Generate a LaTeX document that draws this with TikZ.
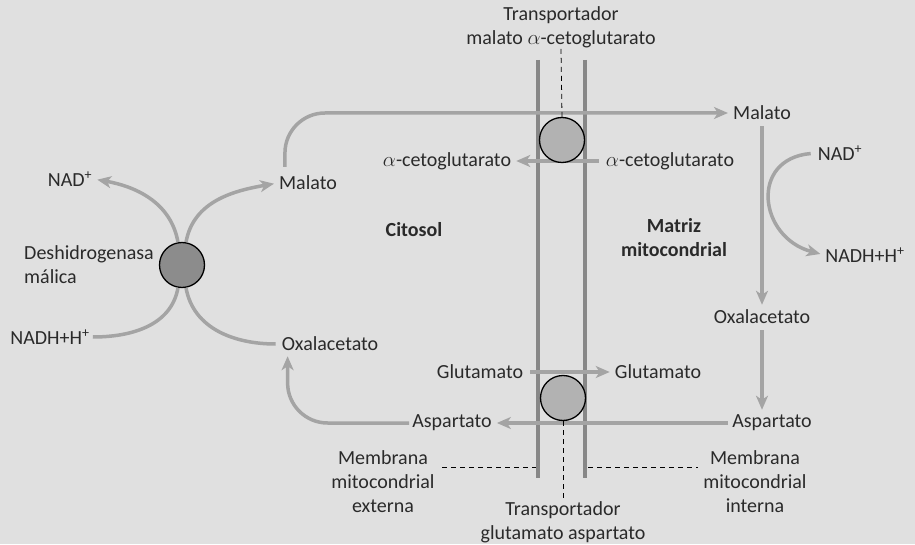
\documentclass[tikz,border=0pt]{standalone}
\usepackage{fontspec}
\setmainfont{Carlito}
\usetikzlibrary{arrows.meta}
\definecolor{bg}{HTML}{E0E0E0}
\definecolor{arr}{HTML}{A4A4A4}
\definecolor{mem}{HTML}{878787}
\definecolor{txt}{HTML}{2A2A2A}
\definecolor{dhfill}{HTML}{8C8C8C}
\definecolor{trfill}{HTML}{B2B2B2}
\begin{document}
\begin{tikzpicture}[x=1pt,y=1pt,
  lbl/.style={font=\fontsize{20}{24}\selectfont, text=txt, inner sep=1pt, align=center},
  flow/.style={draw=arr, line width=3.5pt, shorten >=4pt, -{Stealth[length=14pt,width=12pt,inset=4pt]}},
  flowplain/.style={draw=arr, line width=3.5pt},
  membrane/.style={draw=mem, line width=4.5pt},
  carrier/.style={circle, draw=black, line width=1.3pt, minimum size=45pt, inner sep=0pt},
  guide/.style={draw=black, line width=0.8pt, dash pattern=on 5pt off 4pt}]
\fill[bg] (0,0) rectangle (915,544);
\useasboundingbox (0,0) rectangle (915,544);

% membranes
\coordinate (mo1) at (538,484); \coordinate (mo2) at (538,66);
\coordinate (mi1) at (585,484); \coordinate (mi2) at (585,66);
\draw[membrane] (mo1) -- (mo2);
\draw[membrane] (mi1) -- (mi2);

% labels
\node[lbl] (ttop) at (561,517) {Transportador\\malato $\alpha$-cetoglutarato};
\node[lbl] (tbot) at (563,22) {Transportador\\glutamato aspartato};
\node[lbl] (nadL) at (70,365) {NAD\textsuperscript{+}};
\node[lbl] (nadhL) at (50,207) {NADH+H\textsuperscript{+}};
\node[lbl, anchor=west, align=left] (dhlbl) at (23,279) {Deshidrogenasa\\málica};
\node[lbl] (malL) at (308,361) {Malato};
\node[lbl] (oxL) at (330,200) {Oxalacetato};
\node[lbl] (akgL) at (447,383) {$\alpha$-cetoglutarato};
\node[lbl] (akgR) at (670,383) {$\alpha$-cetoglutarato};
\node[lbl] (cit) at (414,314) {\bfseries Citosol};
\node[lbl] (matriz) at (674,306) {\bfseries Matriz\\\bfseries mitocondrial};
\node[lbl] (malR) at (762,431) {Malato};
\node[lbl] (nadR) at (840,391) {NAD\textsuperscript{+}};
\node[lbl] (nadhR) at (865,289) {NADH+H\textsuperscript{+}};
\node[lbl] (oxR) at (762,227) {Oxalacetato};
\node[lbl] (aspR) at (772,121) {Aspartato};
\node[lbl] (aspL) at (452,121) {Aspartato};
\node[lbl] (gluL) at (480,172) {Glutamato};
\node[lbl] (gluR) at (658,172) {Glutamato};
\node[lbl] (memE) at (383,62) {Membrana\\mitocondrial\\externa};
\node[lbl] (memI) at (755,62) {Membrana\\mitocondrial\\interna};

% dehydrogenase
\node[carrier, fill=dhfill] (dh) at (182,279) {};
\draw[flow] (dh.100) to[out=100,in=-10] (nadL.east);
\draw[flow] (dh.80) to[out=80,in=190] (malL.west);
\draw[flowplain] (dh.260) to[out=260,in=0] ([xshift=2pt]nadhL.east);
\draw[flowplain] (dh.280) to[out=280,in=180] ([xshift=-5pt]oxL.west);

% top malate path
\draw[flow, rounded corners=40pt] ([shift={(7pt,8pt)}]malL.north west) |- (malR.west);
% aspartate to oxaloacetate
\draw[flow, rounded corners=40pt] ([xshift=-2pt]aspL.west) -| ([xshift=7pt]oxL.south west);

% transport arrows
\draw[flow] ([xshift=-6pt]akgR.west) -- (akgL.east);
\draw[flow] ([xshift=6pt]gluL.east) -- (gluR.west);
\draw[flow] ([xshift=-3pt]aspR.west) -- (aspL.east);

% matrix
\draw[flow, shorten <=5pt] (malR.south) -- (malR.south |- oxR.north);
\draw[flow, shorten <=5pt] (oxR.south) -- (oxR.south |- aspR.north);
\draw[flow, shorten <=6pt] (nadR.west) to[out=185,in=165,looseness=1.7] (nadhR.west);

% transporters
\node[carrier, fill=trfill] (tc1) at (562,404) {};
\node[carrier, fill=trfill] (tc2) at (563,146) {};
\draw[guide] (ttop.south) -- (tc1.north);
\draw[guide] (tc2.south) -- (tbot.north);

% membrane pointers
\coordinate (dE1) at (442,77); \coordinate (dE2) at (536,77);
\coordinate (dI1) at (588,77); \coordinate (dI2) at (698,77);
\draw[guide] (dE1) -- (dE2);
\draw[guide] (dI1) -- (dI2);
\end{tikzpicture}
\end{document}
